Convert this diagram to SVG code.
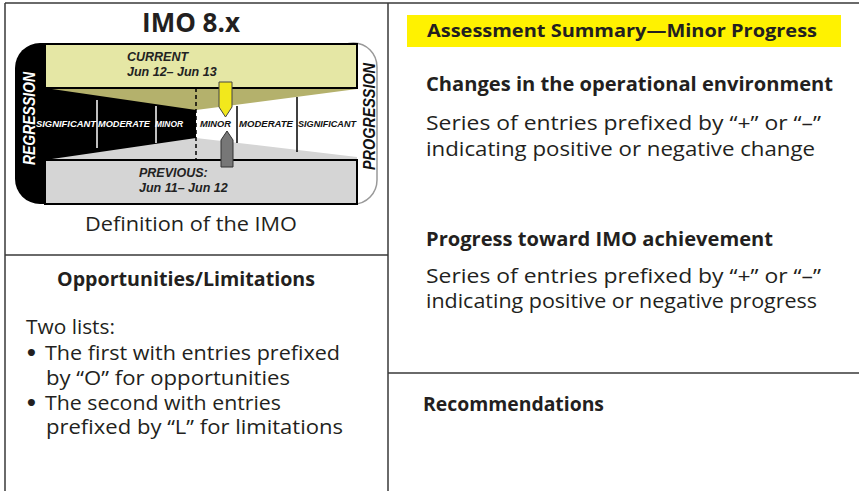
<svg xmlns="http://www.w3.org/2000/svg" width="859" height="491" viewBox="0 0 859 491">
<style>
.t{font-family:"Open Sans","Noto Sans",sans-serif;fill:#231f20;font-size:20px}
.b{font-weight:bold;font-size:19px}
.bul{font-family:"DejaVu Sans",sans-serif;fill:#231f20;font-size:20px;font-weight:bold}
.g{font-family:"Liberation Sans",Arial,sans-serif;font-weight:bold;font-style:italic}
.frame{stroke:#3a3a3a;stroke-width:1.5;fill:none}
</style>
<rect width="859" height="491" fill="#fff"/>
<g id="frame">
<path class="frame" d="M5 3H859M5 3V491M388 3V491M5 255H388M388 373H859"/>
</g>
<g id="imo-title"><text class="t" x="191" y="32" font-weight="bold" style="font-size:26px" text-anchor="middle">IMO 8.x</text></g>
<g id="gauge">
<rect x="330" y="43" width="47" height="161" rx="24" fill="#fff" stroke="#999" stroke-width="1.5"/>
<rect x="15" y="43" width="60" height="161" rx="25" fill="#000"/>
<rect x="45" y="88" width="151" height="72" fill="#000"/>
<rect x="196" y="88" width="161" height="72" fill="#fff"/>
<polygon points="45,88 357,88 357,89 196,110" fill="#b4b16c"/>
<polygon points="45,160 196,138 357,157 357,160" fill="#d5d5d5"/>
<line x1="196" y1="88" x2="196" y2="160" stroke="#000" stroke-width="1.5" stroke-dasharray="4,3"/>
<g stroke="#fff" stroke-width="1.5"><line x1="97" y1="100" x2="97" y2="148"/><line x1="156" y1="106" x2="156" y2="143"/></g>
<g stroke="#000" stroke-width="1.5"><line x1="237" y1="106" x2="237" y2="143"/><line x1="297" y1="97" x2="297" y2="152"/></g>
<rect x="45" y="44" width="312" height="44" fill="#e5e7a5" stroke="#000" stroke-width="2"/>
<rect x="45" y="160" width="312" height="44" fill="#d5d5d5" stroke="#000" stroke-width="2"/>
<g font-size="12.5" fill="#222">
<text class="g" x="127" y="61">CURRENT</text>
<text class="g" x="127" y="76">Jun 12– Jun 13</text>
<text class="g" x="139" y="177">PREVIOUS:</text>
<text class="g" x="139" y="192">Jun 11– Jun 12</text>
</g>
<g font-size="9" fill="#fff"><text class="g" x="36" y="127" textLength="60" lengthAdjust="spacingAndGlyphs">SIGNIFICANT</text><text class="g" x="98" y="127" textLength="52" lengthAdjust="spacingAndGlyphs">MODERATE</text><text class="g" x="155" y="127" textLength="28" lengthAdjust="spacingAndGlyphs">MINOR</text></g>
<g font-size="9" fill="#111"><text class="g" x="200" y="127" textLength="31" lengthAdjust="spacingAndGlyphs">MINOR</text><text class="g" x="239" y="127" textLength="54" lengthAdjust="spacingAndGlyphs">MODERATE</text><text class="g" x="298" y="127" textLength="58" lengthAdjust="spacingAndGlyphs">SIGNIFICANT</text></g>
<text class="g" transform="translate(35,118.5) rotate(-90)" font-size="16" fill="#fff" text-anchor="middle" textLength="93" lengthAdjust="spacingAndGlyphs">REGRESSION</text>
<text class="g" transform="translate(375,116.5) rotate(-90)" font-size="16" fill="#111" text-anchor="middle" textLength="107" lengthAdjust="spacingAndGlyphs">PROGRESSION</text>
<path d="M219 82H232V107L225.5 117L219 107Z" fill="#f2e81c" stroke="#444" stroke-width="1"/>
<path d="M221 167V140L227 131L233 140V167Z" fill="#777" stroke="#333" stroke-width="1"/>
</g>
<g id="definition"><text class="t" x="85" y="231" textLength="212" lengthAdjust="spacingAndGlyphs">Definition of the IMO</text></g>
<g id="opportunities">
<text class="t b" x="57" y="286" textLength="258" lengthAdjust="spacingAndGlyphs">Opportunities/Limitations</text>
<text class="t" x="26" y="334" textLength="89" lengthAdjust="spacingAndGlyphs">Two lists:</text>
<text class="bul" x="25" y="360">•</text>
<text class="t" x="45" y="360" textLength="295" lengthAdjust="spacingAndGlyphs">The first with entries prefixed</text>
<text class="t" x="46" y="385" textLength="244" lengthAdjust="spacingAndGlyphs">by “O” for opportunities</text>
<text class="bul" x="25" y="409.5">•</text>
<text class="t" x="45" y="409.5" textLength="236" lengthAdjust="spacingAndGlyphs">The second with entries</text>
<text class="t" x="46" y="434" textLength="297" lengthAdjust="spacingAndGlyphs">prefixed by “L” for limitations</text>
</g>
<g id="summary">
<rect x="407" y="15" width="434" height="32" fill="#fff200"/>
<text class="t b" x="427" y="37" style="font-size:18px" textLength="390" lengthAdjust="spacingAndGlyphs">Assessment Summary—Minor Progress</text>
</g>
<g id="changes">
<text class="t b" x="426" y="91" textLength="407" lengthAdjust="spacingAndGlyphs">Changes in the operational environment</text>
<text class="t" x="426" y="129.5" textLength="395" lengthAdjust="spacingAndGlyphs">Series of entries prefixed by “+” or “–”</text>
<text class="t" x="426" y="156" textLength="389" lengthAdjust="spacingAndGlyphs">indicating positive or negative change</text>
</g>
<g id="progress">
<text class="t b" x="426" y="246" textLength="347" lengthAdjust="spacingAndGlyphs">Progress toward IMO achievement</text>
<text class="t" x="426" y="283" textLength="395" lengthAdjust="spacingAndGlyphs">Series of entries prefixed by “+” or “–”</text>
<text class="t" x="426" y="308" textLength="391" lengthAdjust="spacingAndGlyphs">indicating positive or negative progress</text>
</g>
<g id="recommendations"><text class="t b" x="423" y="411" textLength="181" lengthAdjust="spacingAndGlyphs">Recommendations</text></g>
</svg>
